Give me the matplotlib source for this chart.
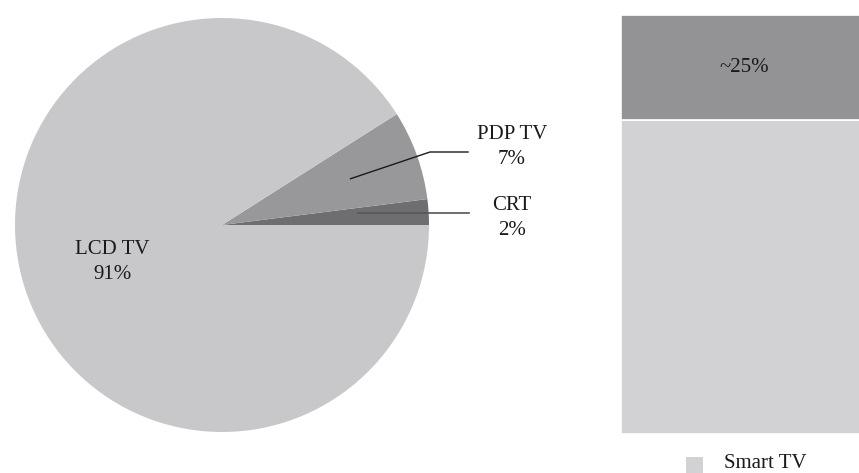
import numpy as np
import matplotlib
matplotlib.use("Agg")
import matplotlib.pyplot as plt
from matplotlib.patches import Rectangle

plt.rcParams['font.family'] = ['Liberation Serif', 'DejaVu Serif']

# TV market shares by technology (pie)
tv_types = ["CRT", "PDP TV", "LCD TV"]
tv_shares = [2, 7, 91]
tv_colors = ["#6e6e70", "#98989a", "#c8c8ca"]

# Smart TV share (stacked bar)
bar_parts = ["Smart TV", "Other"]
bar_shares = [75, 25]
bar_colors = ["#d2d2d4", "#939395"]
bar_label = "~25%"

FS = 15
W, H = 859, 473
fig = plt.figure(figsize=(W / 100, H / 100), dpi=100)

# pie: centre (222, 225), radius 207 px
cx, cy, r = 222, 225, 207
ax = fig.add_axes([(cx - r) / W, (H - cy - r) / H, 2 * r / W, 2 * r / H])
wedges, _ = ax.pie(tv_shares, colors=tv_colors, startangle=0, counterclock=True,
                   radius=1, wedgeprops=dict(linewidth=0))
ax.set_xlim(-1, 1)
ax.set_ylim(-1, 1)
ax.set_aspect('equal')
ax.axis('off')

def px(x, y):
    return (x - cx) / r, (cy - y) / r

def mid_point(w, frac=0.66):
    a = np.deg2rad((w.theta1 + w.theta2) / 2)
    return frac * np.cos(a), frac * np.sin(a)

# CRT leader
x0, y0 = mid_point(wedges[0])
xe, ye = px(469, 213)
ax.plot([x0, xe], [ye, ye], color="#555555", lw=1.2, clip_on=False)
tx, ty = px(512, 218)
ax.text(tx, ty, f"{tv_types[0]}\n{tv_shares[0]}%", ha='center', va='center',
        fontsize=FS, linespacing=1.4, color="#1a1a1a")

# PDP leader
x0, y0 = mid_point(wedges[1])
xk, yk = px(430, 152)
xe, _ = px(468, 152)
ax.plot([x0, xk, xe], [y0, yk, yk], color="#1a1a1a", lw=1.0, clip_on=False)
tx, ty = px(512, 147)
ax.text(tx, ty, f"{tv_types[1]}\n{tv_shares[1]}%", ha='center', va='center',
        fontsize=FS, linespacing=1.4, color="#1a1a1a")

# LCD label
tx, ty = px(112, 262)
ax.text(tx, ty, f"{tv_types[2]}\n{tv_shares[2]}%", ha='center', va='center',
        fontsize=FS, linespacing=1.4, color="#1a1a1a")

# stacked bar on the right
bl, bt, bb, bw = 621, 15, 434, 246
bx = fig.add_axes([bl / W, (H - bb) / H, bw / W, (bb - bt) / H])
bottom = 0
for part, val, col in zip(bar_parts, bar_shares, bar_colors):
    bx.bar(0, val, width=1, bottom=bottom, align='edge', color=col,
           edgecolor='white', linewidth=1.2)
    bottom += val
bx.text(0.5, bar_shares[0] + bar_shares[1] / 2, bar_label, ha='center', va='center',
        fontsize=FS, color="#1a1a1a")
bx.set_xlim(0, 1)
bx.set_ylim(0, 100)
bx.axis('off')

# legend key below the bar
fig.patches.append(Rectangle((686 / W, (H - 474) / H), 17 / W, 17 / H,
                             transform=fig.transFigure, facecolor=bar_colors[0],
                             edgecolor='none'))
fig.text(724 / W, (H - 468) / H, bar_parts[0], ha='left', va='baseline',
         fontsize=FS, color="#1a1a1a")

fig.savefig("out.png", dpi=100)
